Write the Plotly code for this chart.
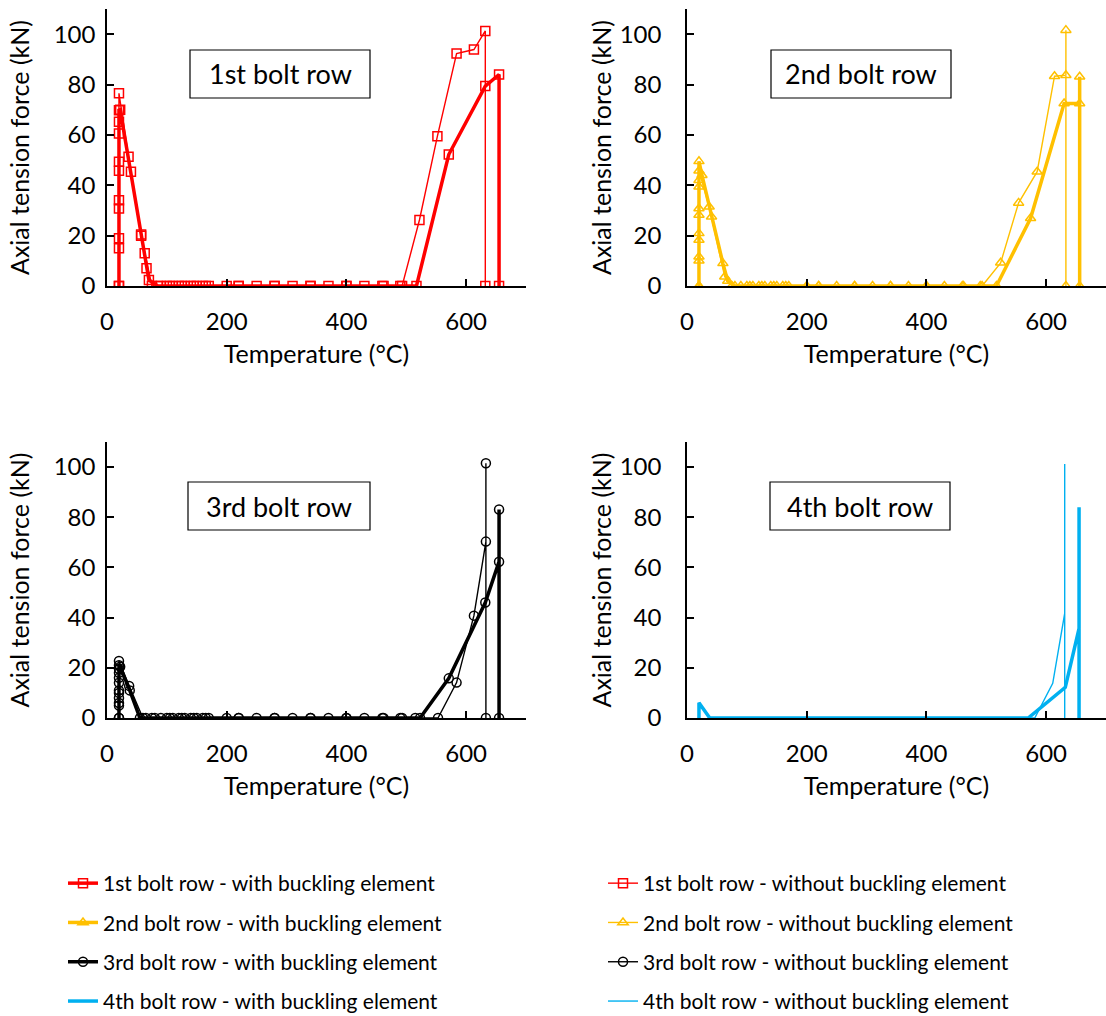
import plotly.graph_objects as go

W, H = 1106, 1016
FONT = "Lato"

RED, YELLOW, BLACK, BLUE = "#FF0000", "#FFC000", "#000000", "#00B0F0"

# ---- data: temperature (°C) and axial tension force (kN) ----
r1_with_T = [20, 20, 20, 20, 20, 20, 22, 57, 63, 66, 70, 85, 100, 110, 120, 130, 140, 150,
             160, 170, 200, 220, 250, 280, 310, 340, 370, 400, 430, 460, 490, 517, 571, 632, 655, 655]
r1_with_F = [0, 15, 30.8, 45.8, 60.6, 69.8, 70, 20.5, 13, 7, 2.4, 0, 0, 0, 0, 0, 0, 0,
             0, 0, 0, 0, 0, 0, 0, 0, 0, 0, 0, 0, 0, 0, 52.2, 79.4, 84, 0]
r1_wo_T = [20, 20, 20, 20, 20, 20, 36, 40, 57, 75, 90, 105, 125, 145, 165, 220, 280, 340,
           400, 462, 493, 522, 552, 584, 613, 632, 632]
r1_wo_F = [0, 19, 34.1, 49.3, 65.2, 76.5, 51.3, 45.4, 20, 0, 0, 0, 0, 0, 0, 0, 0, 0,
           0, 0, 0, 26.2, 59.5, 92.3, 93.9, 101.3, 0]

r2_with_T = [20, 20, 20, 20, 20, 20, 25, 41, 60, 68, 80, 100, 110, 120, 130, 140, 150, 160,
             170, 200, 220, 250, 280, 310, 340, 370, 400, 430, 460, 490, 517, 574, 630, 656, 656, 656]
r2_with_F = [0, 11.6, 20.9, 30.8, 42, 49.5, 44, 27.5, 9, 2, 0, 0, 0, 0, 0, 0, 0, 0,
             0, 0, 0, 0, 0, 0, 0, 0, 0, 0, 0, 0, 0, 26.9, 72.5, 72.5, 83.1, 0]
r2_wo_T = [20, 20, 20, 20, 20, 20, 37, 63, 75, 90, 105, 125, 145, 165, 220, 280, 340, 400,
           462, 493, 524, 554, 585, 614, 633, 633, 633]
r2_wo_F = [0, 10, 18.3, 28.2, 39.4, 45.8, 31.5, 3.7, 0, 0, 0, 0, 0, 0, 0, 0, 0, 0,
           0, 0, 9.2, 33, 45.4, 83.3, 83.7, 101.6, 0]

r3_with_T = [20, 20, 20, 20, 20, 20, 22, 38, 55, 65, 80, 100, 110, 120, 130, 140, 150, 160,
             170, 200, 220, 250, 280, 310, 340, 370, 400, 430, 460, 490, 523, 571, 632, 655, 655, 655]
r3_with_F = [0, 6, 10, 14, 18, 21, 20.4, 11, 0, 0, 0, 0, 0, 0, 0, 0, 0, 0,
             0, 0, 0, 0, 0, 0, 0, 0, 0, 0, 0, 0, 0, 15.8, 46, 62.3, 83.1, 0]
r3_wo_T = [20, 20, 20, 20, 20, 20, 20, 37, 60, 75, 90, 105, 125, 145, 165, 220, 280, 340,
           400, 462, 493, 515, 553, 584, 613, 633, 633, 633]
r3_wo_F = [0, 5, 8, 11, 16, 19.5, 22.7, 12.8, 0, 0, 0, 0, 0, 0, 0, 0, 0, 0,
           0, 0, 0, 0, 0, 14.1, 40.8, 70.3, 101.5, 0]

r4_with_T = [20, 20, 38, 100, 200, 300, 400, 500, 570, 632, 655, 655, 655]
r4_with_F = [0, 6.1, 0, 0, 0, 0, 0, 0, 0, 12.2, 35.7, 84, 0]
r4_wo_T = [20, 20, 38, 100, 200, 300, 400, 500, 581, 611, 631, 631, 631]
r4_wo_F = [0, 6, 0, 0, 0, 0, 0, 0, 0, 13.8, 41.7, 101.2, 0]

panel_titles = ["1st bolt row", "2nd bolt row", "3rd bolt row", "4th bolt row"]
x_ticks = [0, 200, 400, 600]
y_ticks = [0, 20, 40, 60, 80, 100]

series = [
    # (panel, name, T, F, colour, width, symbol, legend)
    (1, "1st bolt row - with buckling element", r1_with_T, r1_with_F, RED, 3.5, "square-open", "legend"),
    (1, "1st bolt row - without buckling element", r1_wo_T, r1_wo_F, RED, 1.4, "square-open", "legend2"),
    (2, "2nd bolt row - with buckling element", r2_with_T, r2_with_F, YELLOW, 3.5, "triangle-up-open", "legend"),
    (2, "2nd bolt row - without buckling element", r2_wo_T, r2_wo_F, YELLOW, 1.4, "triangle-up-open", "legend2"),
    (3, "3rd bolt row - with buckling element", r3_with_T, r3_with_F, BLACK, 3.5, "circle-open", "legend"),
    (3, "3rd bolt row - without buckling element", r3_wo_T, r3_wo_F, BLACK, 1.4, "circle-open", "legend2"),
    (4, "4th bolt row - with buckling element", r4_with_T, r4_with_F, BLUE, 3.5, None, "legend"),
    (4, "4th bolt row - without buckling element", r4_wo_T, r4_wo_F, BLUE, 1.4, None, "legend2"),
]

fig = go.Figure()
for i, (p, name, T, F, col, lw, sym, leg) in enumerate(series):
    sfx = "" if p == 1 else str(p)
    kw = dict(mode="lines")
    if sym:
        kw = dict(mode="lines+markers",
                  marker=dict(symbol=sym, size=9, color=col, line=dict(color=col, width=1.5)))
    fig.add_trace(go.Scatter(
        x=T, y=F, name=name, xaxis="x" + sfx, yaxis="y" + sfx,
        line=dict(color=col, width=lw), legend=leg, legendgroup=f"g{i}", **kw))


def px(x):
    return x / W


def py(y):
    return 1 - y / H


# plot-area pixel boxes (left, right, top, bottom)
boxes = {1: (107, 526, 9, 286), 2: (687, 1106, 9, 286),
         3: (107, 526, 442, 718), 4: (687, 1106, 442, 718)}

tick_font = dict(family=FONT, size=24, color="black")
title_font = dict(family=FONT, size=25, color="black")
layout = dict(
    width=W, height=H, margin=dict(l=0, r=0, t=0, b=0, autoexpand=False),
    paper_bgcolor="white", plot_bgcolor="white",
    font=dict(family=FONT, size=20, color="black"),
    showlegend=True,
)
for p, (l, r, t, b) in boxes.items():
    sfx = "" if p == 1 else str(p)
    left_col = p in (1, 3)
    layout["xaxis" + sfx] = dict(
        domain=[px(l), px(r)], anchor="y" + sfx, range=[0, 700],
        tickvals=x_ticks, ticks="inside", ticklen=7, tickwidth=1.5, tickcolor="black",
        showline=True, linecolor="black", linewidth=1.5, showgrid=False, zeroline=False,
        tickfont=tick_font, ticklabelstandoff=13,
        title=dict(text="Temperature (°C)", font=title_font, standoff=12))
    layout["yaxis" + sfx] = dict(
        domain=[py(b), py(t)], anchor="x" + sfx, range=[0, 110],
        tickvals=y_ticks, ticks="inside", ticklen=7, tickwidth=1.5, tickcolor="black",
        showline=True, linecolor="black", linewidth=1.5, showgrid=False, zeroline=False,
        tickfont=tick_font, ticklabelstandoff=(5 if left_col else 19),
        title=dict(text="Axial tension force (kN)", font=title_font,
                   standoff=(17 if left_col else 1)))

legend_font = dict(family=FONT, size=21, color="black")
layout["legend"] = dict(x=px(63), y=py(863), xanchor="left", yanchor="top",
                        font=legend_font, tracegroupgap=9, bgcolor="rgba(0,0,0,0)")
layout["legend2"] = dict(x=px(603), y=py(863), xanchor="left", yanchor="top",
                         font=legend_font, tracegroupgap=9, bgcolor="rgba(0,0,0,0)")
fig.update_layout(**layout)

# labelled boxes inside each panel
label_boxes = {1: (190, 370, 50, 98), 2: (771, 951, 50, 98),
               3: (188, 370, 482, 530), 4: (770, 950, 482, 530)}
for p, (x0, x1, y0, y1) in label_boxes.items():
    fig.add_shape(type="rect", xref="paper", yref="paper",
                  x0=px(x0), x1=px(x1), y0=py(y1), y1=py(y0),
                  line=dict(color="black", width=1.2), fillcolor="white", layer="below")
    fig.add_annotation(xref="paper", yref="paper", x=px((x0 + x1) / 2), y=py((y0 + y1) / 2),
                       xanchor="center", yanchor="middle",
                       text=panel_titles[p - 1], showarrow=False,
                       font=dict(family=FONT, size=27, color="black"))

fig.write_html("out.html")
